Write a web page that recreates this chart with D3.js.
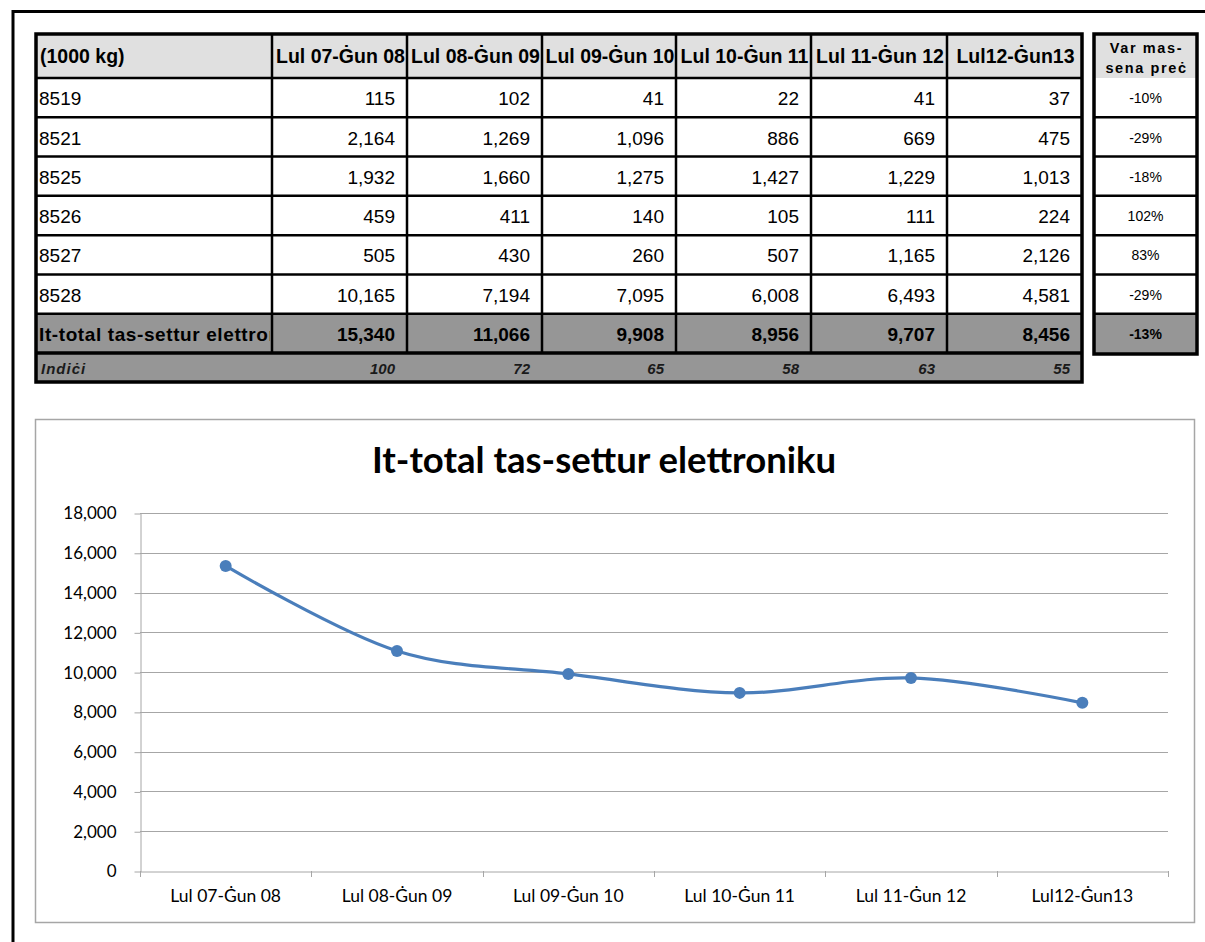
<!DOCTYPE html>
<html>
<head>
<meta charset="utf-8">
<script src="https://cdn.jsdelivr.net/npm/d3@7"></script>
<style>
  body { margin: 0; background: #fff; }
  svg { display: block; }
</style>
</head>
<body>
<div id="chart"></div>
<script>
// data
var periods = ["Lul 07-Ġun 08", "Lul 08-Ġun 09", "Lul 09-Ġun 10", "Lul 10-Ġun 11", "Lul 11-Ġun 12", "Lul12-Ġun13"];
var codes = ["8519", "8521", "8525", "8526", "8527", "8528"];
var v8519 = [115, 102, 41, 22, 41, 37];
var v8521 = [2164, 1269, 1096, 886, 669, 475];
var v8525 = [1932, 1660, 1275, 1427, 1229, 1013];
var v8526 = [459, 411, 140, 105, 111, 224];
var v8527 = [505, 430, 260, 507, 1165, 2126];
var v8528 = [10165, 7194, 7095, 6008, 6493, 4581];
var totals = [15340, 11066, 9908, 8956, 9707, 8456];
var indici = [100, 72, 65, 58, 63, 55];
var changes = ["-10%", "-29%", "-18%", "102%", "83%", "-29%"];
var totalChange = "-13%";
var yTicks = [0, 2000, 4000, 6000, 8000, 10000, 12000, 14000, 16000, 18000];

var rows = [v8519, v8521, v8525, v8526, v8527, v8528];
var fmt = d3.format(",");

var W = 1205, H = 942;
var svg = d3.select("#chart").append("svg")
    .attr("width", W)
    .attr("height", H);

// outer page frame (only top and left visible)
svg.append("path")
    .attr("d", "M13,942 V11.5 H1205")
    .attr("fill", "none")
    .attr("stroke", "#000")
    .attr("stroke-width", 3);

// ---------- table ----------
var tFont = "Liberation Sans, Arial, sans-serif";
var colEdges = [36, 272, 407, 542, 676, 811, 947, 1082];
var headTop = 34, headBot = 78;
var rowY = d3.scaleLinear().domain([0, 7]).range([headBot, 353]);
var indBot = 382;

var table = svg.append("g");

// backgrounds
table.append("rect").attr("x", colEdges[0]).attr("y", headTop)
    .attr("width", colEdges[7] - colEdges[0]).attr("height", headBot - headTop)
    .attr("fill", "#e0e0e0");
table.append("rect").attr("x", colEdges[0]).attr("y", rowY(6))
    .attr("width", colEdges[7] - colEdges[0]).attr("height", indBot - rowY(6))
    .attr("fill", "#969696");

// header texts
table.append("text").attr("x", colEdges[0] + 4).attr("y", 63)
    .attr("font-family", tFont).attr("font-size", 19.5).attr("font-weight", "bold")
    .text("(1000 kg)");
table.selectAll(".ph").data(periods).enter().append("text")
    .attr("class", "ph")
    .attr("x", function(d, i) { return (colEdges[i + 1] + colEdges[i + 2]) / 2 + 1; })
    .attr("y", 63)
    .attr("text-anchor", "middle")
    .attr("font-family", tFont).attr("font-size", 19.5).attr("font-weight", "bold")
    .text(function(d) { return d; });

// data rows
rows.forEach(function(r, ri) {
    var yb = rowY(ri + 1) - 12;
    table.append("text").attr("x", colEdges[0] + 3).attr("y", yb)
        .attr("font-family", tFont).attr("font-size", 19)
        .text(codes[ri]);
    table.selectAll(".r" + ri).data(r).enter().append("text")
        .attr("class", "r" + ri)
        .attr("x", function(d, i) { return colEdges[i + 2] - 12; })
        .attr("y", yb)
        .attr("text-anchor", "end")
        .attr("font-family", tFont).attr("font-size", 19)
        .text(function(d) { return fmt(d); });
});

// total row
svg.append("clipPath").attr("id", "c0").append("rect")
    .attr("x", colEdges[0]).attr("y", rowY(6)).attr("width", colEdges[1] - colEdges[0] - 2).attr("height", 40);
table.append("text").attr("x", colEdges[0] + 3).attr("y", rowY(7) - 12)
    .attr("clip-path", "url(#c0)")
    .attr("font-family", tFont).attr("font-size", 19).attr("font-weight", "bold")
    .attr("letter-spacing", 0.6)
    .text("It-total tas-settur elettroniku");
table.selectAll(".tot").data(totals).enter().append("text")
    .attr("class", "tot")
    .attr("x", function(d, i) { return colEdges[i + 2] - 12; })
    .attr("y", rowY(7) - 12)
    .attr("text-anchor", "end")
    .attr("font-family", tFont).attr("font-size", 19).attr("font-weight", "bold")
    .text(function(d) { return fmt(d); });

// index row
table.append("text").attr("x", colEdges[0] + 5).attr("y", indBot - 8)
    .attr("font-family", tFont).attr("font-size", 15).attr("font-weight", "bold").attr("font-style", "italic")
    .attr("letter-spacing", 1)
    .attr("fill", "#1a1a1a")
    .text("Indiċi");
table.selectAll(".ind").data(indici).enter().append("text")
    .attr("class", "ind")
    .attr("x", function(d, i) { return colEdges[i + 2] - 12; })
    .attr("y", indBot - 8)
    .attr("text-anchor", "end")
    .attr("font-family", tFont).attr("font-size", 15).attr("font-weight", "bold").attr("font-style", "italic")
    .attr("fill", "#1a1a1a")
    .text(function(d) { return d; });

// grid lines of table
for (var k = 0; k <= 7; k++) {
    table.append("line")
        .attr("x1", colEdges[0]).attr("x2", colEdges[7])
        .attr("y1", rowY(k)).attr("y2", rowY(k))
        .attr("stroke", "#000").attr("stroke-width", k == 7 ? 3.5 : 2.5);
}
colEdges.slice(1, 7).forEach(function(x) {
    table.append("line").attr("x1", x).attr("x2", x)
        .attr("y1", headTop).attr("y2", rowY(7))
        .attr("stroke", "#000").attr("stroke-width", 2.5);
});
table.append("rect").attr("x", colEdges[0]).attr("y", headTop)
    .attr("width", colEdges[7] - colEdges[0]).attr("height", indBot - headTop)
    .attr("fill", "none").attr("stroke", "#000").attr("stroke-width", 3.5);

// right small table
var rx0 = 1094, rx1 = 1197;
var rt = svg.append("g");
rt.append("rect").attr("x", rx0).attr("y", headTop).attr("width", rx1 - rx0).attr("height", headBot - headTop)
    .attr("fill", "#e0e0e0");
rt.append("rect").attr("x", rx0).attr("y", rowY(6)).attr("width", rx1 - rx0).attr("height", rowY(7) - rowY(6))
    .attr("fill", "#969696");
rt.selectAll(".hd").data(["Var mas-", "sena preċ"]).enter().append("text")
    .attr("x", (rx0 + rx1) / 2 + 1)
    .attr("y", function(d, i) { return 53 + i * 20; })
    .attr("text-anchor", "middle")
    .attr("font-family", tFont).attr("font-size", 14.5).attr("font-weight", "bold")
    .attr("letter-spacing", 1.6)
    .text(function(d) { return d; });
rt.selectAll(".ch").data(changes).enter().append("text")
    .attr("x", (rx0 + rx1) / 2)
    .attr("y", function(d, i) { return rowY(i + 1) - 14; })
    .attr("text-anchor", "middle")
    .attr("font-family", tFont).attr("font-size", 14)
    .text(function(d) { return d; });
rt.append("text").attr("x", (rx0 + rx1) / 2).attr("y", rowY(7) - 14)
    .attr("text-anchor", "middle")
    .attr("font-family", tFont).attr("font-size", 14).attr("font-weight", "bold")
    .text(totalChange);
for (var j = 1; j <= 6; j++) {
    rt.append("line").attr("x1", rx0).attr("x2", rx1)
        .attr("y1", rowY(j)).attr("y2", rowY(j))
        .attr("stroke", "#000").attr("stroke-width", 2.5);
}
rt.append("rect").attr("x", rx0).attr("y", headTop).attr("width", rx1 - rx0).attr("height", rowY(7) + 1 - headTop)
    .attr("fill", "none").attr("stroke", "#000").attr("stroke-width", 3.5);

// ---------- chart ----------
var cFont = "Lato, 'Open Sans', sans-serif";
svg.append("rect").attr("x", 35.5).attr("y", 419.5).attr("width", 1159).attr("height", 503)
    .attr("fill", "#fff").attr("stroke", "#a6a6a6").attr("stroke-width", 1.5);

svg.append("text").attr("x", 604).attr("y", 473)
    .attr("text-anchor", "middle")
    .attr("font-family", cFont).attr("font-size", 36.5).attr("font-weight", "bold")
    .text("It-total tas-settur elettroniku");

var plot = { left: 140, right: 1168, top: 513, bottom: 871 };
var x = d3.scaleBand().domain(periods).range([plot.left, plot.right]);
var y = d3.scaleLinear().domain([0, 18000]).range([plot.bottom, plot.top]);

var g = svg.append("g");

// gridlines
g.selectAll(".grid").data(yTicks.slice(1)).enter().append("line")
    .attr("x1", plot.left).attr("x2", plot.right)
    .attr("y1", function(d) { return Math.round(y(d)) + 0.5; })
    .attr("y2", function(d) { return Math.round(y(d)) + 0.5; })
    .attr("stroke", "#a6a6a6").attr("stroke-width", 1);

// y axis
var yAxis = g.append("g")
    .attr("transform", "translate(" + (plot.left + 0.5) + ",0.5)")
    .call(d3.axisLeft(y).tickValues(yTicks).tickFormat(fmt).tickSizeInner(6).tickSizeOuter(0).tickPadding(18));
yAxis.select(".domain").attr("stroke", "#a6a6a6");
yAxis.selectAll(".tick line").attr("stroke", "#a6a6a6");
yAxis.selectAll("text").attr("font-family", cFont).attr("font-size", 17).attr("fill", "#000");

// x axis
var xAxis = g.append("g")
    .attr("transform", "translate(0," + (plot.bottom + 0.5) + ")")
    .call(d3.axisBottom(x).tickSize(0).tickPadding(18));
xAxis.select(".domain").attr("stroke", "#a6a6a6");
xAxis.selectAll("text").attr("font-family", cFont).attr("font-size", 17.5).attr("fill", "#000");
g.selectAll(".xt").data(d3.range(periods.length + 1)).enter().append("line")
    .attr("x1", function(i) { return Math.round(plot.left + i * x.bandwidth()) + 0.5; })
    .attr("x2", function(i) { return Math.round(plot.left + i * x.bandwidth()) + 0.5; })
    .attr("y1", plot.bottom).attr("y2", plot.bottom + 6)
    .attr("stroke", "#a6a6a6");

// line
var cx = function(d, i) { return x(periods[i]) + x.bandwidth() / 2; };
var line = d3.line()
    .x(cx)
    .y(function(d) { return y(d); })
    .curve(d3.curveCardinal.tension(0));
g.append("path").datum(totals)
    .attr("d", line)
    .attr("fill", "none")
    .attr("stroke", "#4a7ebb")
    .attr("stroke-width", 3.2);
g.selectAll(".dot").data(totals).enter().append("circle")
    .attr("cx", cx)
    .attr("cy", function(d) { return y(d); })
    .attr("r", 6)
    .attr("fill", "#4a7ebb");
</script>
</body>
</html>
